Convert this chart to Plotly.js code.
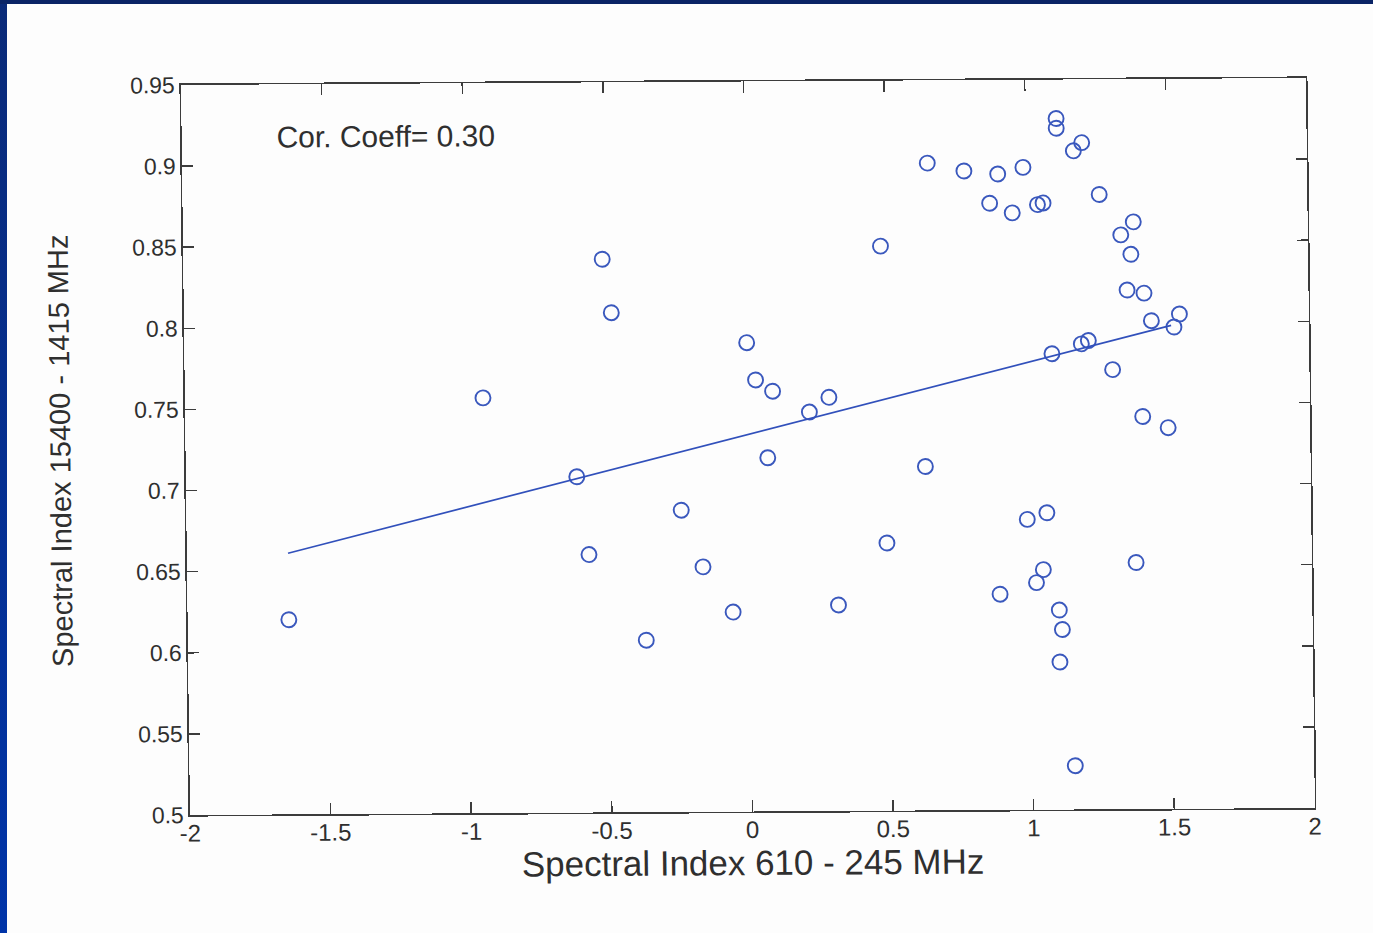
<!DOCTYPE html>
<html>
<head>
<meta charset="utf-8">
<script src="https://cdn.plot.ly/plotly-3.0.1.min.js"></script>
<style>
  html { margin: 0; padding: 0; background: #fdfdfd; overflow: hidden; }
  body { margin: 0; padding: 0; width: 100vw; height: 100vh; background: #fdfdfd; position: relative; overflow: hidden; }
  #leftbar { position: fixed; left: 0; top: 0; width: 7px; height: 100vh; background: linear-gradient(#0a2a78, #0034a8); z-index: 5; }
  #topbar { position: fixed; left: 0; top: 0; width: 100vw; height: 4px; background: #0a2466; z-index: 5; }
  #rightcover { position: fixed; right: 0; top: 4px; width: 12px; height: 100vh; background: #fdfdfd; z-index: 4; }
  #chart { position: absolute; left: 7px; top: 4px; width: 1360px; height: 925px;
           transform-origin: 0 0;
           transform: matrix(0.999, -0.00622, 0.01235, 1.0014, -5.78, 4.0); }
</style>
</head>
<body>
<div id="chart"></div>
<div id="rightcover"></div>
<div id="leftbar"></div>
<div id="topbar"></div>
<script>
// Spectral index 610-245 MHz (x) vs spectral index 15400-1415 MHz (y)
const specIdx610_245 = [
  -1.64, -0.94, -0.61, -0.51, -0.48, -0.57, -0.37, -0.24, -0.165, -0.06,
   0.00,  0.03,  0.09,  0.07,  0.22,  0.29,  0.315, 0.48,  0.49,  0.65,
   0.63,  0.78,  0.87,  0.90,  0.95,  0.99,  1.04,  1.06,  1.11,  1.11,
   1.17,  1.20,  0.99,  1.06,  1.375, 1.045, 1.02,  0.89,  1.10,  1.11,
   1.10,  1.15,  1.26,  1.38,  1.335, 1.37,  1.355, 1.415, 1.44,  1.54,
   1.52,  1.19,  1.215, 1.085, 1.30,  1.405, 1.495
];
const specIdx15400_1415 = [
  0.620, 0.756, 0.707, 0.841, 0.808, 0.659, 0.606, 0.686, 0.651, 0.623,
  0.789, 0.766, 0.759, 0.718, 0.746, 0.755, 0.627, 0.848, 0.665, 0.899,
  0.712, 0.894, 0.874, 0.892, 0.868, 0.896, 0.873, 0.874, 0.926, 0.920,
  0.906, 0.911, 0.679, 0.683, 0.652, 0.648, 0.640, 0.633, 0.623, 0.611,
  0.591, 0.527, 0.879, 0.862, 0.854, 0.842, 0.820, 0.818, 0.801, 0.805,
  0.797, 0.787, 0.789, 0.781, 0.771, 0.742, 0.735
];
// Least-squares fit line end points
const fitX = [-1.64, 1.51];
const fitY = [0.661, 0.798];
const corrLabel = "Cor. Coeff= 0.30";
const xTickVals = [-2, -1.5, -1, -0.5, 0, 0.5, 1, 1.5, 2];
const xTickText = ["-2", "-1.5", "-1", "-0.5", "0", "0.5", "1", "1.5", "2"];
const yTickVals = [0.5, 0.55, 0.6, 0.65, 0.7, 0.75, 0.8, 0.85, 0.9, 0.95];
const yTickText = ["0.5", "0.55", "0.6", "0.65", "0.7", "0.75", "0.8", "0.85", "0.9", "0.95"];
const xTitle = "Spectral Index 610 - 245 MHz";
const yTitle = "Spectral Index 15400 - 1415 MHz";

const FONT = "Liberation Sans, Arial, Helvetica, sans-serif";
const TXT = "#2f2f2f";
const AX = "#3c3c3c";

const traces = [
  {
    x: specIdx610_245, y: specIdx15400_1415,
    type: "scatter", mode: "markers",
    marker: { symbol: "circle-open", size: 15, color: "#3a58bd", line: { width: 1.9, color: "#3a58bd" } },
    hoverinfo: "x+y", showlegend: false
  },
  {
    x: fitX, y: fitY,
    type: "scatter", mode: "lines",
    line: { color: "#3150bb", width: 1.7 },
    hoverinfo: "skip", showlegend: false
  }
];

const layout = {
  width: 1360, height: 925,
  paper_bgcolor: "rgba(0,0,0,0)", plot_bgcolor: "rgba(0,0,0,0)",
  margin: { l: 179, r: 55, t: 78, b: 118 },
  font: { family: FONT, color: TXT },
  showlegend: false,
  xaxis: {
    range: [-2, 2], tickmode: "array", tickvals: xTickVals, ticktext: xTickText,
    showgrid: false, zeroline: false,
    showline: true, linecolor: AX, linewidth: 1.6, mirror: "ticks",
    ticks: "inside", ticklen: 11, tickwidth: 1.5, tickcolor: AX,
    ticklabelstandoff: -4,
    tickfont: { family: FONT, size: 24, color: TXT },
    title: { text: xTitle, font: { family: FONT, size: 35, color: TXT }, standoff: 0 }
  },
  yaxis: {
    range: [0.5, 0.95], tickmode: "array", tickvals: yTickVals, ticktext: yTickText,
    showgrid: false, zeroline: false,
    showline: true, linecolor: AX, linewidth: 1.6, mirror: "ticks",
    ticks: "inside", ticklen: 11, tickwidth: 1.5, tickcolor: AX,
    tickfont: { family: FONT, size: 23, color: TXT },
    title: { text: yTitle, font: { family: FONT, size: 29, color: TXT }, standoff: 55 }
  },
  annotations: [{
    text: corrLabel, xref: "paper", yref: "paper",
    x: 0.083, y: 0.928, xanchor: "left", yanchor: "middle", showarrow: false,
    font: { family: FONT, size: 30, color: TXT }
  }]
};

Plotly.newPlot("chart", traces, layout, { staticPlot: true, displayModeBar: false });
</script>
</body>
</html>
